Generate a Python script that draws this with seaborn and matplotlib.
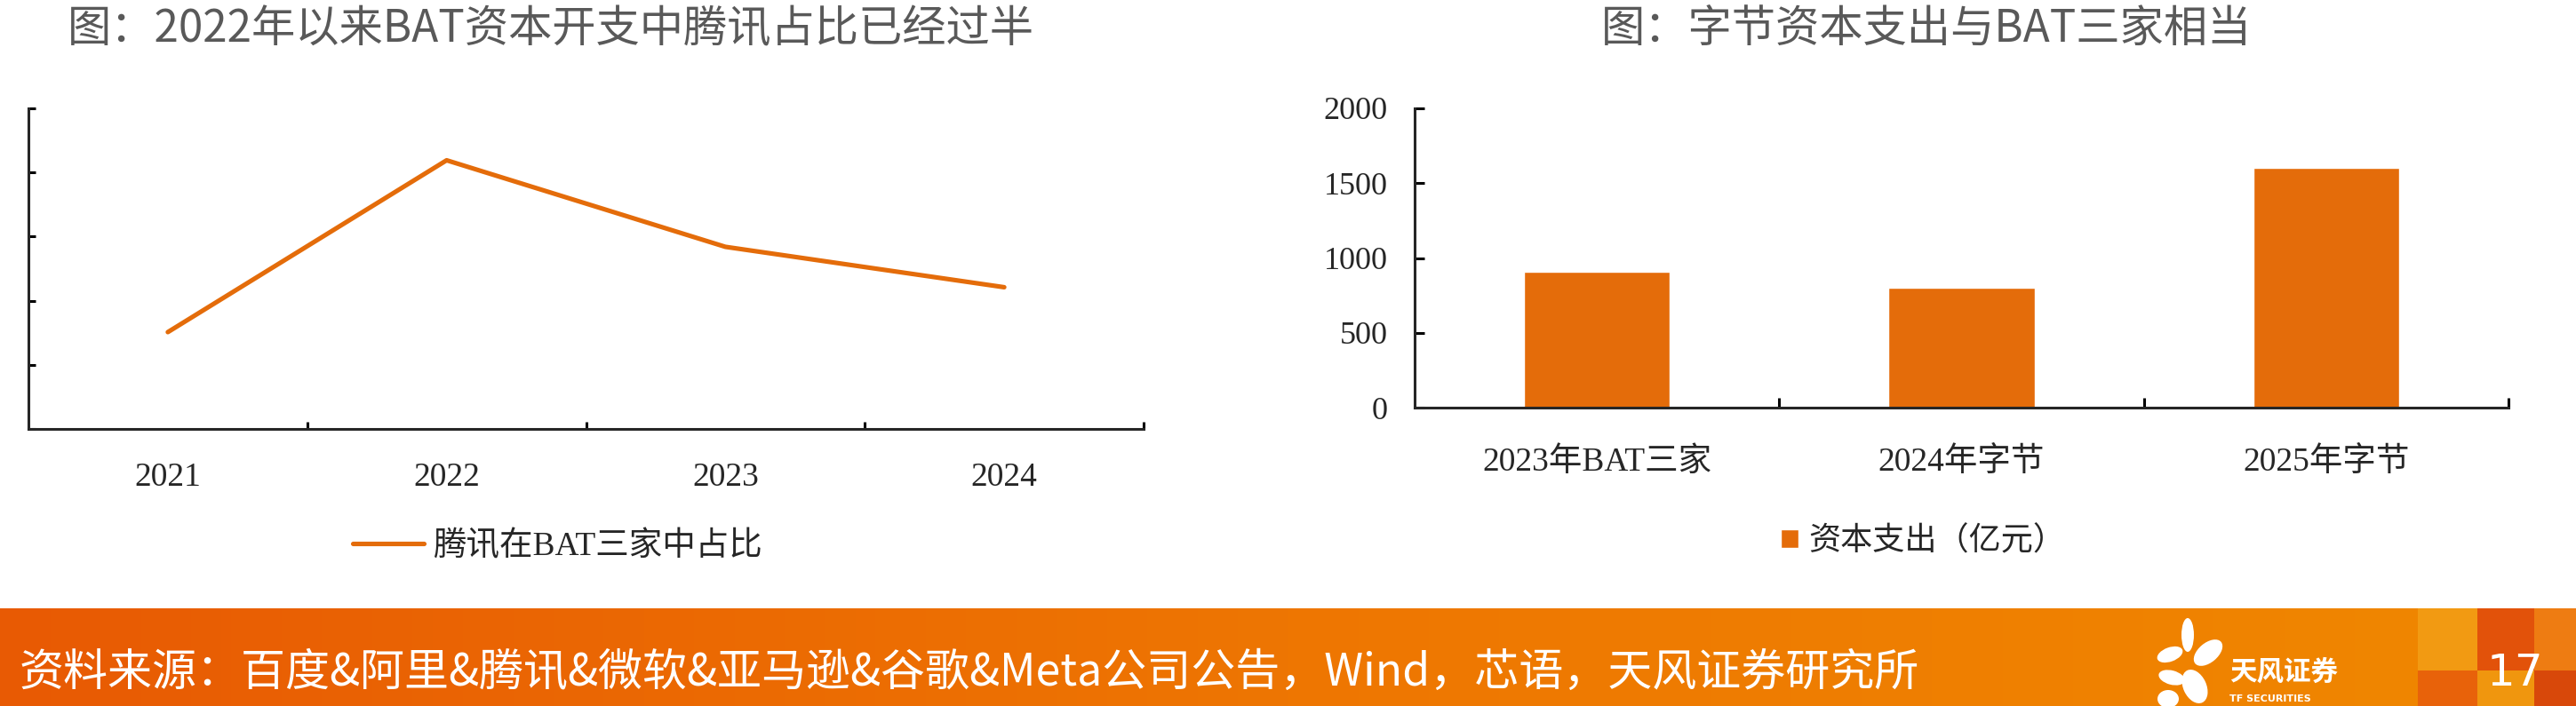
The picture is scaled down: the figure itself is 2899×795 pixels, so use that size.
import matplotlib as mpl
mpl.use("Agg")
import matplotlib.pyplot as plt
import numpy as np
import pandas as pd
import seaborn as sns
from matplotlib.patches import Ellipse, Rectangle
from matplotlib.colors import LinearSegmentedColormap

# data
years = ["2021", "2022", "2023", "2024"]
tencent_share = [0.451, 0.719, 0.584, 0.521]
share_ticks = [0.3, 0.4, 0.5, 0.6, 0.7, 0.8]

capex_labels = ["2023年BAT三家", "2024年字节", "2025年字节"]
capex_values = [910, 800, 1600]
capex_ticks = [0, 500, 1000, 1500, 2000]

left_title = "图：2022年以来BAT资本开支中腾讯占比已经过半"
right_title = "图：字节资本支出与BAT三家相当"
line_label = "腾讯在BAT三家中占比"
bar_label = "资本支出（亿元）"
source_text = "资料来源：百度&阿里&腾讯&微软&亚马逊&谷歌&Meta公司公告，Wind，芯语，天风证券研究所"
page_no = "17"

ORANGE = "#E46C0A"
W, H = 2899, 795

sns.set_style("ticks")
plt.rcParams["font.family"] = ["Liberation Serif", "Noto Sans CJK SC"]
plt.rcParams["axes.linewidth"] = 2.2

fig = plt.figure(figsize=(W / 100, H / 100), dpi=100)
fig.patch.set_facecolor("white")

cjk = ["Noto Sans CJK SC", "DejaVu Sans"]

# ---------- left: line chart ----------
ax1 = fig.add_axes([32 / W, 1 - 483 / H, (1287 - 32) / W, (483 - 122) / H])
df_line = pd.DataFrame({"x": np.arange(len(years)), "share": tencent_share})
sns.lineplot(data=df_line, x="x", y="share", ax=ax1, color=ORANGE,
             linewidth=3.7, solid_capstyle="round")
ax1.set_xlim(-0.5, len(years) - 0.5)
ax1.set_ylim(share_ticks[0], share_ticks[-1])
ax1.set_yticks(share_ticks)
ax1.set_yticklabels([])
ax1.set_xticks(np.arange(len(years)) + 0.5)
ax1.set_xticklabels([])
ax1.set_xticks(np.arange(len(years)), minor=True)
ax1.set_xticklabels(years, minor=True, fontsize=27)
ax1.tick_params(axis="both", which="major", direction="in", length=6, width=2.2, color="black")
ax1.tick_params(axis="x", which="minor", length=0, pad=27)
ax1.set_xlabel("")
ax1.set_ylabel("")
for s in ["top", "right"]:
    ax1.spines[s].set_visible(False)
ax1.set_facecolor("none")

leg1 = fig.legend(handles=ax1.lines[:1], labels=[line_label], loc="center",
                  bbox_to_anchor=(627 / W, 1 - 615 / H), frameon=False, fontsize=27,
                  handlelength=2.15, handletextpad=0.25)

# ---------- right: bar chart ----------
ax2 = fig.add_axes([1592 / W, 1 - 459 / H, (2823 - 1592) / W, (459 - 122) / H])
df_bar = pd.DataFrame({"label": capex_labels, "value": capex_values})
sns.barplot(data=df_bar, x="label", y="value", ax=ax2, color=ORANGE,
            saturation=1, width=0.4)
ax2.set_xlim(-0.5, len(capex_labels) - 0.5)
ax2.set_ylim(capex_ticks[0], capex_ticks[-1])
ax2.set_yticks(capex_ticks)
ax2.set_yticklabels([str(v) for v in capex_ticks], fontsize=26)
ax2.set_xticks(np.arange(len(capex_labels)) + 0.5)
ax2.set_xticklabels([])
ax2.set_xticks(np.arange(len(capex_labels)), minor=True)
ax2.set_xticklabels(capex_labels, minor=True, fontsize=27)
ax2.tick_params(axis="both", which="major", direction="in", length=8, width=2.2, color="black")
ax2.tick_params(axis="y", pad=22)
ax2.tick_params(axis="x", which="minor", length=0, pad=32)
ax2.set_xlabel("")
ax2.set_ylabel("")
for s in ["top", "right"]:
    ax2.spines[s].set_visible(False)
ax2.set_facecolor("none")

leg2 = fig.legend(handles=ax2.patches[:1], labels=[bar_label], loc="center",
                  bbox_to_anchor=(2164 / W, 1 - 610 / H), frameon=False, fontsize=26,
                  handlelength=0.55, handleheight=0.55, handletextpad=0.3)

# ---------- titles ----------
fig.text(620 / W, 1 - 33 / H, left_title, ha="center", va="center",
         fontsize=35.5, color="#595959", family=cjk)
fig.text(2168 / W, 1 - 33 / H, right_title, ha="center", va="center",
         fontsize=35.5, color="#595959", family=cjk)

# ---------- footer band ----------
band = fig.add_axes([0, 0, 1, 110 / H])
band.set_axis_off()
cmap = LinearSegmentedColormap.from_list("band", ["#E85A04", "#EE7602", "#F08800"])
band.imshow(np.linspace(0, 1, 512).reshape(1, -1), aspect="auto", cmap=cmap,
            extent=(0, W, 0, 110))
band.set_xlim(0, W)
band.set_ylim(0, 110)
for x0, x1, lo, hi in [(2721, 2788, "#E8620A", "#F29A12"),
                       (2788, 2852, "#F0960E", "#E2520A"),
                       (2852, 2899, "#D8480A", "#EE7C12")]:
    band.add_patch(Rectangle((x0, 0), x1 - x0, 40, color=lo, lw=0))
    band.add_patch(Rectangle((x0, 40), x1 - x0, 70, color=hi, lw=0))
band.text(22, 37, source_text, ha="left", va="center", fontsize=36,
          color="white", family=cjk)
band.text(2830, 37, page_no, ha="center", va="center", fontsize=36,
          color="white", family=["DejaVu Sans"])

# logo
for cx, cy, w, h, a in [(2462, 80, 14, 38, 0), (2442, 58, 30, 16, 20),
                        (2485, 60, 38, 22, 40), (2444, 32, 30, 16, -15),
                        (2470, 22, 26, 40, 25), (2440, 8, 24, 20, 0)]:
    band.add_patch(Ellipse((cx, cy), w, h, angle=a, color="white", lw=0))
band.text(2509, 38, "天风证券", ha="left", va="center", fontsize=22,
          color="white", fontweight="bold", family=cjk)
band.text(2509, 8, "TF SECURITIES", ha="left", va="center", fontsize=8,
          color="white", fontweight="bold", family=["DejaVu Sans"])

fig.savefig("out.png", dpi=100)
